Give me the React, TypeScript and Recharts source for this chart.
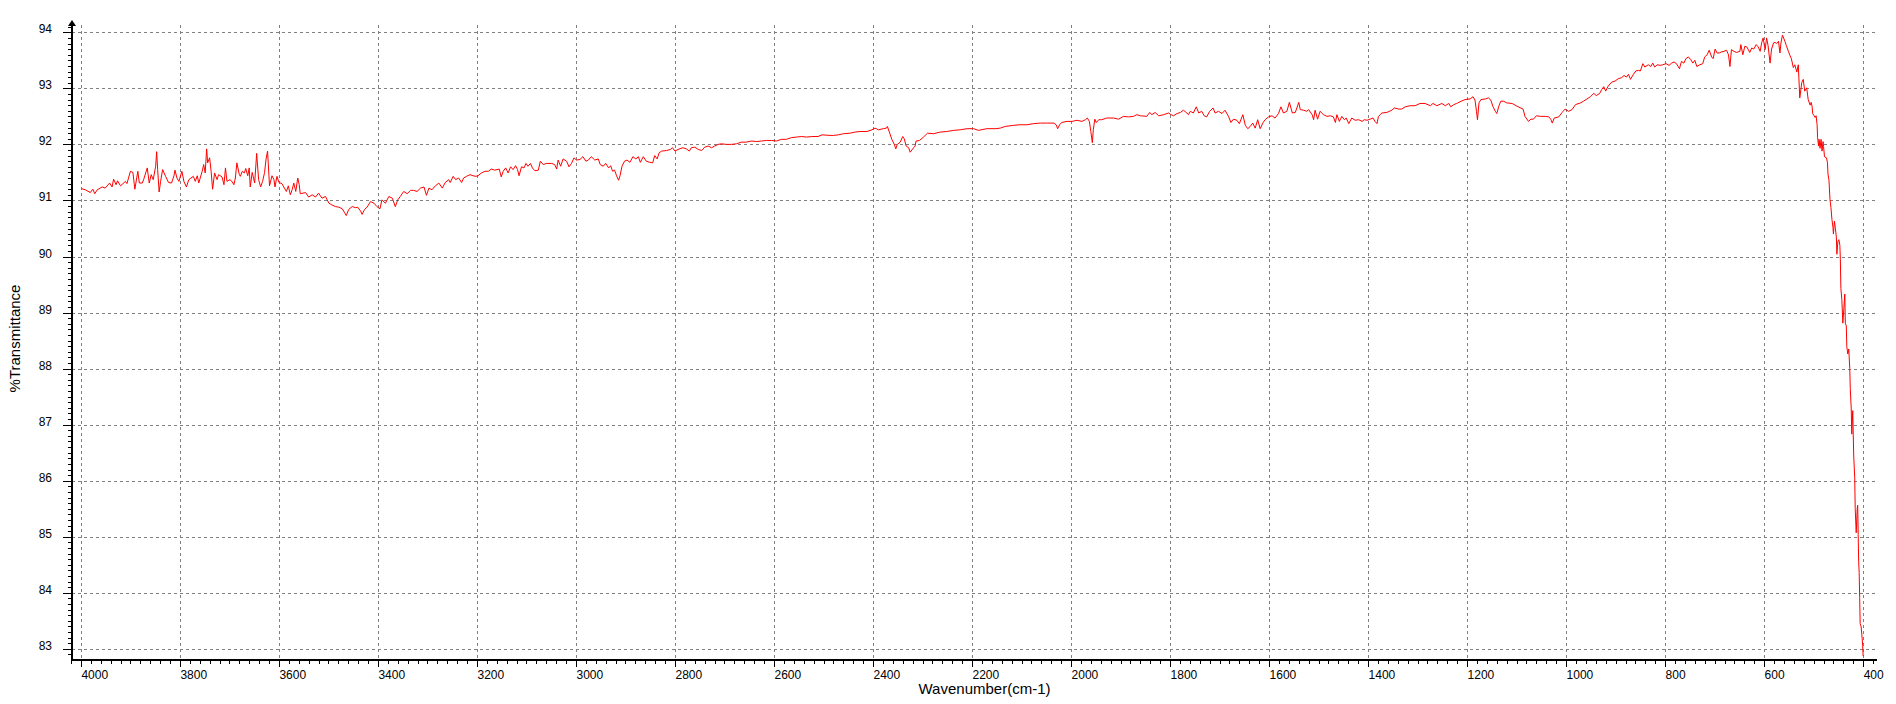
import React from 'react';
import { LineChart, Line, XAxis, YAxis, CartesianGrid } from 'recharts';

// [wavenumber cm-1, %T], split by region
const band4000to3240: [number, number][] = [
  [4000, 91.22], [3992, 91.2], [3982, 91.15], [3977, 91.21], [3973, 91.13], [3968, 91.2], [3958, 91.25],
  [3952, 91.23], [3943, 91.32], [3938, 91.25], [3935, 91.39], [3930, 91.29], [3927, 91.36], [3921, 91.27],
  [3911, 91.35], [3908, 91.31], [3901, 91.53], [3896, 91.51], [3892, 91.21], [3886, 91.53], [3883, 91.32],
  [3877, 91.32], [3874, 91.39], [3867, 91.59], [3863, 91.32], [3859, 91.47], [3855, 91.38], [3850, 91.62],
  [3848, 91.88], [3846, 91.56], [3843, 91.16], [3840, 91.35], [3836, 91.56], [3830, 91.44], [3824, 91.33],
  [3818, 91.32], [3813, 91.45], [3811, 91.55], [3807, 91.41], [3803, 91.35], [3797, 91.53], [3793, 91.35],
  [3788, 91.25], [3783, 91.38], [3774, 91.44], [3770, 91.35], [3766, 91.45], [3763, 91.32], [3756, 91.53],
  [3753, 91.65], [3750, 91.5], [3747, 91.93], [3745, 91.68], [3741, 91.77], [3738, 91.53], [3735, 91.21],
  [3731, 91.5], [3726, 91.38], [3723, 91.47], [3716, 91.43], [3712, 91.29], [3709, 91.59], [3706, 91.35],
  [3700, 91.38], [3696, 91.35], [3692, 91.29], [3689, 91.41], [3686, 91.68], [3681, 91.47], [3679, 91.44],
  [3675, 91.53], [3671, 91.5], [3668, 91.58], [3664, 91.45], [3661, 91.59], [3659, 91.25], [3655, 91.51],
  [3650, 91.32], [3646, 91.85], [3642, 91.38], [3638, 91.25], [3634, 91.35], [3630, 91.51], [3627, 91.75],
  [3624, 91.89], [3620, 91.27], [3615, 91.45], [3611, 91.38], [3609, 91.25], [3605, 91.44], [3601, 91.33],
  [3595, 91.31], [3590, 91.23], [3586, 91.17], [3582, 91.27], [3578, 91.11], [3574, 91.21], [3571, 91.32],
  [3567, 91.17], [3563, 91.41], [3560, 91.29], [3558, 91.13], [3547, 91.15], [3541, 91.07], [3534, 91.11],
  [3527, 91.07], [3521, 91.14], [3514, 91.05], [3507, 91.08], [3500, 90.96], [3494, 90.93], [3487, 90.9],
  [3480, 90.89], [3473, 90.86], [3469, 90.8], [3465, 90.74], [3460, 90.85], [3453, 90.9], [3446, 90.88],
  [3442, 90.89], [3436, 90.82], [3433, 90.76], [3428, 90.85], [3423, 90.89], [3416, 90.99], [3409, 90.96],
  [3403, 90.9], [3397, 90.86], [3393, 91.02], [3386, 90.96], [3379, 91.08], [3372, 91.05], [3366, 90.9],
  [3361, 91.02], [3356, 91.08], [3349, 91.17], [3342, 91.13], [3335, 91.19], [3329, 91.19], [3322, 91.17],
  [3315, 91.23], [3308, 91.25], [3303, 91.1], [3298, 91.23], [3292, 91.2], [3285, 91.27], [3278, 91.32],
  [3271, 91.23], [3265, 91.33], [3258, 91.38], [3255, 91.33], [3249, 91.44], [3244, 91.38], [3238, 91.41],
];

const band3240to2510: [number, number][] = [
  [3232, 91.33], [3228, 91.41], [3222, 91.44], [3215, 91.47], [3209, 91.45], [3203, 91.44], [3199, 91.45],
  [3192, 91.5], [3185, 91.53], [3178, 91.53], [3172, 91.57], [3165, 91.55], [3156, 91.57], [3152, 91.43],
  [3148, 91.53], [3143, 91.59], [3138, 91.5], [3133, 91.61], [3128, 91.56], [3123, 91.63], [3119, 91.56],
  [3116, 91.45], [3111, 91.61], [3106, 91.59], [3102, 91.67], [3098, 91.62], [3093, 91.67], [3089, 91.59],
  [3084, 91.54], [3077, 91.55], [3073, 91.71], [3067, 91.65], [3061, 91.67], [3050, 91.67], [3044, 91.65],
  [3040, 91.57], [3037, 91.73], [3032, 91.62], [3027, 91.75], [3020, 91.71], [3015, 91.61], [3010, 91.67],
  [3005, 91.77], [3000, 91.73], [2993, 91.74], [2987, 91.79], [2981, 91.71], [2976, 91.73], [2970, 91.79],
  [2963, 91.73], [2956, 91.75], [2952, 91.65], [2946, 91.62], [2941, 91.67], [2935, 91.59], [2931, 91.63],
  [2927, 91.53], [2923, 91.55], [2919, 91.45], [2915, 91.37], [2912, 91.45], [2908, 91.62], [2903, 91.71],
  [2898, 91.73], [2892, 91.69], [2886, 91.79], [2880, 91.75], [2875, 91.79], [2871, 91.69], [2865, 91.79],
  [2859, 91.71], [2852, 91.69], [2846, 91.68], [2842, 91.81], [2837, 91.75], [2833, 91.86], [2828, 91.89],
  [2818, 91.9], [2810, 91.92], [2806, 91.95], [2801, 91.89], [2795, 91.92], [2785, 91.95], [2778, 91.93],
  [2772, 91.89], [2768, 91.95], [2761, 91.96], [2754, 91.92], [2747, 91.9], [2741, 91.96], [2734, 91.98],
  [2727, 91.95], [2721, 91.98], [2714, 92.01], [2707, 92.02], [2697, 92.01], [2687, 92.01], [2677, 92.02],
  [2667, 92.05], [2657, 92.05], [2646, 92.07], [2636, 92.06], [2626, 92.07], [2616, 92.08], [2606, 92.08],
  [2596, 92.07], [2586, 92.1], [2576, 92.1], [2566, 92.13], [2556, 92.14], [2545, 92.15], [2535, 92.14],
  [2525, 92.15], [2512, 92.15],
];

const band2510to1540: [number, number][] = [
  [2504, 92.18], [2488, 92.17], [2481, 92.17], [2471, 92.18], [2461, 92.2], [2447, 92.21], [2437, 92.23],
  [2427, 92.24], [2413, 92.24], [2403, 92.27], [2397, 92.3], [2390, 92.27], [2380, 92.29], [2374, 92.3],
  [2372, 92.33], [2368, 92.23], [2363, 92.1], [2358, 92.01], [2355, 91.93], [2352, 92.01], [2346, 92.05],
  [2341, 92.15], [2338, 92.11], [2334, 91.98], [2329, 91.95], [2326, 91.87], [2319, 91.95], [2316, 91.98],
  [2314, 92.07], [2307, 92.08], [2299, 92.14], [2291, 92.21], [2279, 92.2], [2265, 92.23], [2252, 92.24],
  [2238, 92.26], [2225, 92.27], [2211, 92.29], [2198, 92.29], [2188, 92.26], [2171, 92.29], [2154, 92.29],
  [2144, 92.3], [2134, 92.33], [2117, 92.35], [2104, 92.36], [2090, 92.36], [2077, 92.38], [2063, 92.39],
  [2050, 92.39], [2036, 92.39], [2031, 92.36], [2028, 92.29], [2024, 92.36], [2020, 92.4], [2009, 92.42],
  [1999, 92.42], [1989, 92.44], [1979, 92.42], [1972, 92.45], [1968, 92.48], [1964, 92.42], [1961, 92.24],
  [1958, 92.04], [1956, 92.27], [1953, 92.46], [1950, 92.4], [1945, 92.45], [1939, 92.45], [1929, 92.48],
  [1915, 92.48], [1905, 92.46], [1895, 92.51], [1885, 92.5], [1875, 92.51], [1868, 92.54], [1861, 92.52],
  [1848, 92.51], [1842, 92.58], [1838, 92.54], [1831, 92.58], [1824, 92.52], [1814, 92.54], [1804, 92.57],
  [1799, 92.54], [1794, 92.52], [1787, 92.56], [1780, 92.58], [1774, 92.62], [1767, 92.57], [1764, 92.54],
  [1760, 92.6], [1754, 92.57], [1748, 92.68], [1743, 92.57], [1737, 92.6], [1732, 92.52], [1727, 92.5],
  [1721, 92.6], [1714, 92.66], [1710, 92.57], [1703, 92.6], [1696, 92.56], [1690, 92.62], [1683, 92.51],
  [1678, 92.4], [1673, 92.46], [1666, 92.44], [1661, 92.38], [1654, 92.54], [1649, 92.35], [1644, 92.29],
  [1639, 92.33], [1634, 92.39], [1629, 92.3], [1624, 92.45], [1619, 92.29], [1613, 92.4], [1609, 92.45],
  [1602, 92.5], [1595, 92.52], [1589, 92.48], [1582, 92.56], [1577, 92.68], [1572, 92.57], [1565, 92.6],
  [1560, 92.76], [1554, 92.57], [1548, 92.58], [1541, 92.76], [1538, 92.63],
];

const band1540to930: [number, number][] = [
  [1531, 92.62], [1525, 92.6], [1521, 92.63], [1514, 92.54], [1511, 92.45], [1508, 92.62], [1503, 92.46],
  [1498, 92.6], [1491, 92.54], [1484, 92.51], [1477, 92.52], [1471, 92.5], [1467, 92.4], [1464, 92.54],
  [1459, 92.42], [1454, 92.51], [1449, 92.45], [1445, 92.48], [1440, 92.38], [1434, 92.48], [1427, 92.44],
  [1420, 92.45], [1413, 92.42], [1409, 92.45], [1403, 92.44], [1397, 92.46], [1391, 92.48], [1387, 92.42],
  [1383, 92.38], [1380, 92.51], [1373, 92.57], [1363, 92.58], [1353, 92.62], [1348, 92.66], [1339, 92.64],
  [1333, 92.64], [1326, 92.68], [1316, 92.7], [1306, 92.7], [1296, 92.74], [1286, 92.74], [1275, 92.7],
  [1270, 92.74], [1262, 92.7], [1252, 92.74], [1245, 92.7], [1238, 92.74], [1234, 92.68], [1228, 92.72],
  [1222, 92.74], [1213, 92.78], [1205, 92.81], [1195, 92.82], [1189, 92.86], [1185, 92.8], [1182, 92.6],
  [1180, 92.45], [1177, 92.75], [1173, 92.81], [1164, 92.82], [1158, 92.84], [1153, 92.8], [1149, 92.69],
  [1144, 92.6], [1141, 92.56], [1137, 92.69], [1133, 92.78], [1127, 92.78], [1121, 92.75], [1110, 92.74],
  [1100, 92.69], [1088, 92.64], [1084, 92.51], [1077, 92.42], [1072, 92.46], [1067, 92.46], [1061, 92.52],
  [1053, 92.51], [1043, 92.51], [1036, 92.5], [1032, 92.46], [1029, 92.39], [1025, 92.48], [1016, 92.5],
  [1009, 92.58], [1003, 92.64], [996, 92.6], [989, 92.63], [982, 92.72], [972, 92.75], [966, 92.78],
  [959, 92.82], [952, 92.86], [945, 92.92], [940, 92.88], [933, 92.92],
];

const band930to510: [number, number][] = [
  [929, 92.99], [925, 93.04], [921, 92.96], [916, 93.05], [909, 93.12], [902, 93.14], [896, 93.18],
  [889, 93.2], [884, 93.24], [879, 93.21], [875, 93.26], [871, 93.17], [865, 93.26], [860, 93.32],
  [855, 93.33], [851, 93.32], [846, 93.45], [842, 93.39], [835, 93.43], [830, 93.4], [826, 93.46],
  [822, 93.39], [817, 93.43], [811, 93.42], [806, 93.43], [799, 93.45], [793, 93.42], [788, 93.46],
  [783, 93.48], [778, 93.45], [772, 93.36], [768, 93.49], [763, 93.46], [759, 93.54], [754, 93.57],
  [749, 93.52], [745, 93.46], [741, 93.51], [737, 93.4], [731, 93.43], [725, 93.45], [721, 93.57],
  [716, 93.61], [712, 93.69], [707, 93.57], [704, 93.54], [700, 93.71], [696, 93.64], [692, 93.64],
  [687, 93.66], [682, 93.67], [677, 93.69], [673, 93.61], [670, 93.4], [667, 93.7], [662, 93.67],
  [657, 93.65], [650, 93.67], [648, 93.79], [644, 93.61], [640, 93.76], [636, 93.75], [630, 93.65],
  [626, 93.73], [622, 93.71], [617, 93.79], [613, 93.75], [609, 93.67], [606, 93.82], [603, 93.91],
  [599, 93.7], [596, 93.91], [593, 93.77], [589, 93.46], [586, 93.71], [582, 93.82], [579, 93.83],
  [576, 93.81], [572, 93.85], [569, 93.64], [567, 93.82], [564, 93.96], [559, 93.85], [556, 93.77],
  [552, 93.67], [549, 93.6], [546, 93.54], [542, 93.38], [539, 93.43], [535, 93.3], [532, 93.43],
  [529, 92.84], [525, 93.11], [522, 93.17], [519, 92.96], [515, 93.02], [512, 92.81],
];

const band510to400: [number, number][] = [
  [508, 92.71], [506, 92.76], [504, 92.68], [503, 92.56], [500, 92.52], [498, 92.49], [496, 92.52],
  [494, 92.36], [493, 92.13], [491, 91.98], [490, 92.1], [488, 91.94], [486, 92.1], [484, 91.89],
  [482, 92.06], [481, 91.97], [479, 91.79], [475, 91.77], [473, 91.68], [472, 91.48], [470, 91.37],
  [468, 91.03], [466, 90.88], [464, 90.67], [462, 90.53], [461, 90.41], [459, 90.64], [457, 90.51],
  [455, 90.34], [454, 90.05], [452, 90.28], [450, 90.31], [448, 90.21], [447, 89.95], [446, 89.44],
  [444, 89.24], [442, 88.82], [440, 89.08], [438, 89.34], [437, 88.82], [435, 88.77], [434, 88.4],
  [432, 88.27], [430, 88.36], [428, 88.01], [427, 87.65], [425, 87.29], [424, 86.84], [422, 87.26],
  [421, 86.84], [420, 86.45], [418, 86.06], [417, 85.51], [415, 85.08], [413, 85.51], [412, 85.57],
  [411, 85.05], [410, 84.56], [409, 84.37], [408, 83.92], [407, 83.46], [405, 83.4], [403, 83.2],
  [402, 83.07], [401, 82.88],
];

const spectrum = [
  ...band4000to3240,
  ...band3240to2510,
  ...band2510to1540,
  ...band1540to930,
  ...band930to510,
  ...band510to400,
].map(([wn, t]) => ({ wn, t }));

const xMajorTicks = [
  4000, 3800, 3600, 3400, 3200, 3000, 2800, 2600, 2400, 2200, 2000, 1800, 1600, 1400, 1200, 1000, 800, 600, 400,
];
const yMajorTicks = [83, 84, 85, 86, 87, 88, 89, 90, 91, 92, 93, 94];

// minor tick marks: every 20 cm-1 and every 0.1 %T
const xAllTicks = Array.from({ length: 183 }, (_, i) => 380 + i * 20);
const yAllTicks = Array.from({ length: 113 }, (_, i) => (829 + i) / 10);

const FONT = '"Liberation Sans", Arial, sans-serif';

const XTick = (props: any) => {
  const { x, y, payload } = props;
  const v = payload.value;
  const major = xMajorTicks.includes(v);
  return (
    <g>
      <line x1={x} x2={x} y1={y} y2={y + (major ? 7 : 4)} stroke="#000" shapeRendering="crispEdges" />
      {major && (
        <text x={x} y={y + 19} fontSize={12} fontFamily={FONT} fill="#000" textAnchor="start">
          {v}
        </text>
      )}
    </g>
  );
};

const YTick = (props: any) => {
  const { x, y, payload } = props;
  const v = payload.value;
  const major = Math.abs(v - Math.round(v)) < 1e-6;
  return (
    <g>
      <line x1={x - (major ? 9 : 4)} x2={x} y1={y} y2={y} stroke="#000" shapeRendering="crispEdges" />
      {major && (
        <text x={x - 20} y={y + 0.5} fontSize={12} fontFamily={FONT} fill="#000" textAnchor="end">
          {Math.round(v)}
        </text>
      )}
    </g>
  );
};

const YTitle = (props: any) => {
  const vb = props.viewBox || { x: 0, y: 25, width: 72, height: 635 };
  const ax = vb.x + vb.width;
  const cy = vb.y + vb.height / 2 - 4;
  return (
    <g>
      <polygon points={`${ax},${vb.y - 5} ${ax - 4},${vb.y + 1} ${ax + 4},${vb.y + 1}`} fill="#000" />
      <text
        x={20}
        y={cy}
        transform={`rotate(-90 20 ${cy})`}
        fontSize={15}
        fontFamily={FONT}
        fill="#000"
        textAnchor="middle"
      >
        %Transmittance
      </text>
    </g>
  );
};

const XTitle = (props: any) => {
  const vb = props.viewBox || { x: 72, y: 660, width: 1805, height: 44 };
  return (
    <text
      x={vb.x + vb.width / 2 + 10}
      y={vb.y + 34}
      fontSize={15}
      fontFamily={FONT}
      fill="#000"
      textAnchor="middle"
    >
      Wavenumber(cm-1)
    </text>
  );
};

export default function App() {
  return (
    <div style={{ position: 'absolute', left: 0, top: 0, width: 1896, height: 704, background: '#fff' }}>
      <LineChart width={1896} height={704} data={spectrum} margin={{ top: 25, right: 19, left: 0, bottom: 0 }}>
        <CartesianGrid
          stroke="#808080"
          strokeDasharray="3 3"
          shapeRendering="crispEdges"
          horizontalValues={yMajorTicks}
          verticalValues={xMajorTicks}
        />
        <XAxis
          type="number"
          dataKey="wn"
          domain={[373, 4019]}
          reversed
          allowDataOverflow
          ticks={xAllTicks}
          interval={0}
          tick={XTick}
          tickLine={false}
          tickSize={0}
          tickMargin={0}
          height={44}
          axisLine={{ stroke: '#000', strokeWidth: 2 }}
          label={{ content: XTitle }}
        />
        <YAxis
          type="number"
          domain={[82.81, 94.14]}
          allowDataOverflow
          ticks={yAllTicks}
          interval={0}
          tick={YTick}
          tickLine={false}
          tickSize={0}
          tickMargin={0}
          width={72}
          axisLine={{ stroke: '#000', strokeWidth: 2 }}
          label={{ content: YTitle }}
        />
        <Line
          type="linear"
          dataKey="t"
          stroke="#ff0000"
          strokeWidth={1}
          dot={false}
          isAnimationActive={false}
        />
      </LineChart>
    </div>
  );
}
